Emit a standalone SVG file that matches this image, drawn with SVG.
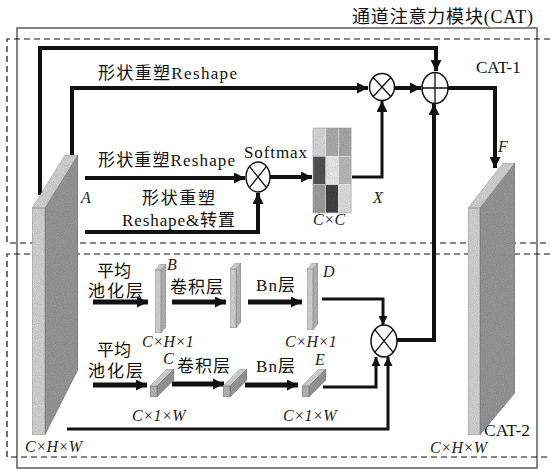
<svg xmlns="http://www.w3.org/2000/svg" width="550" height="470" viewBox="0 0 550 470">
<defs>
<style>
.t{font-family:"Liberation Serif","Times New Roman","DejaVu Serif","Noto Sans CJK SC",serif;fill:#111}
.cn{font-size:17px}
.it{font-family:"Liberation Serif","Times New Roman","DejaVu Serif",serif;font-style:italic;font-size:16px;fill:#222}
.dash{fill:none;stroke:#111;stroke-width:1.2;stroke-dasharray:6 4}
.c4{fill:none;stroke:#111;stroke-width:4}
.c5{fill:none;stroke:#111;stroke-width:5}
.c3{fill:none;stroke:#111;stroke-width:3}
.op{fill:#fff;stroke:#111;stroke-width:1.5}
.opl{stroke:#111;stroke-width:1.3}
.lf{fill:#d6d6d6;stroke:#888;stroke-width:0.6;filter:url(#grain)}
.df{fill:#999;stroke:#666;stroke-width:0.6;filter:url(#grain)}
.sf{fill:#b8b8b8;stroke:#777;stroke-width:0.6;filter:url(#grain)}
.cell{filter:url(#grain)}
</style>
<filter id="grain" x="0" y="0" width="100%" height="100%">
<feTurbulence type="fractalNoise" baseFrequency="1.1" numOctaves="1" seed="3" result="n"/>
<feColorMatrix in="n" type="matrix" values="0 0 0 0 0.55  0 0 0 0 0.55  0 0 0 0 0.55  0 0 0 -0.9 0.75" result="g"/>
<feComposite in="g" in2="SourceGraphic" operator="in" result="gi"/>
<feBlend in="gi" in2="SourceGraphic" mode="multiply" result="b"/>
<feComposite in="b" in2="SourceAlpha" operator="in"/>
</filter>
<marker id="ah" markerUnits="userSpaceOnUse" markerWidth="11" markerHeight="11" refX="10" refY="5" orient="auto" viewBox="0 0 10 10">
<path d="M0,0 L10,5 L0,10 z" fill="#111"/>
</marker>
<marker id="ahs" markerUnits="userSpaceOnUse" markerWidth="9" markerHeight="9" refX="10" refY="5" orient="auto" viewBox="0 0 10 10">
<path d="M0,0 L10,5 L0,10 z" fill="#111"/>
</marker>
</defs>
<rect width="550" height="470" fill="#fff"/>

<g id="frames">
<rect x="17" y="28" width="520" height="440" fill="none" stroke="#444" stroke-width="1.3"/>
<path class="dash" d="M550,39 H7 V243 H550"/>
<path class="dash" d="M550,254 H7 V457 H550"/>
<text class="t" x="352" y="23" font-size="18" textLength="181">通道注意力模块(CAT)</text>
<text class="t" x="476" y="73" font-size="17">CAT-1</text>
<text class="t" x="484" y="436" font-size="17.5">CAT-2</text>
</g>

<g id="connectors">
<path class="c4" d="M40,195 V48 H436 V71" marker-end="url(#ah)"/>
<path class="c4" d="M72,157 V88 H368" marker-end="url(#ah)"/>
<path class="c4" d="M395,88 H421" marker-end="url(#ah)"/>
<path class="c4" d="M448,88 H495 V168" marker-end="url(#ah)"/>
<path class="c4" d="M85,178 H245" marker-end="url(#ah)"/>
<path class="c4" d="M85,232 H258 V193" marker-end="url(#ah)"/>
<path class="c4" d="M270,177 H312" marker-end="url(#ah)"/>
<path class="c3" d="M352,177 H382 V101" marker-end="url(#ah)"/>
<path class="c4" d="M397,340 H434 V104" marker-end="url(#ah)"/>
<path class="c5" d="M93,302 H148" marker-end="url(#ah)"/>
<path class="c5" d="M172,302 H226" marker-end="url(#ah)"/>
<path class="c5" d="M248,302 H302" marker-end="url(#ah)"/>
<path class="c3" d="M322,299 H383 V325" marker-end="url(#ahs)"/>
<path class="c5" d="M93,385 H147" marker-end="url(#ah)"/>
<path class="c5" d="M172,384 H224" marker-end="url(#ah)"/>
<path class="c5" d="M245,385 H298" marker-end="url(#ah)"/>
<path class="c3" d="M323,387 H376 V357" marker-end="url(#ahs)"/>
<path class="c3" d="M67,429 H388 V357" marker-end="url(#ahs)"/>
</g>

<g id="labels">
<text class="t cn" x="98" y="79" font-size="18" textLength="139">形状重塑Reshape</text>
<text class="t cn" x="98" y="166" font-size="18" textLength="137">形状重塑Reshape</text>
<text class="t cn" x="142" y="204" font-size="18" textLength="73">形状重塑</text>
<text class="t cn" x="122" y="226" font-size="18" textLength="113">Reshape&amp;转置</text>
<text class="t" x="244" y="158" font-size="17" textLength="63">Softmax</text>
<text class="t cn" x="97" y="277">平均</text>
<text class="t cn" x="88" y="297" textLength="55">池化层</text>
<text class="t cn" x="170" y="293" textLength="53">卷积层</text>
<text class="t cn" x="256" y="291" textLength="39">Bn层</text>
<text class="t cn" x="97" y="356">平均</text>
<text class="t cn" x="88" y="377" textLength="55">池化层</text>
<text class="t cn" x="177" y="372" textLength="53">卷积层</text>
<text class="t cn" x="256" y="372" textLength="39">Bn层</text>
</g>

<g id="slabA">
<rect class="lf" x="32" y="208" width="13" height="227"/>
<polygon class="lf" points="32,208 45,208 78,155 65,155"/>
<polygon class="df" points="45,208 78,155 78,370 45,435"/>
<text class="it" x="81" y="203">A</text>
<text class="it" x="25" y="452">C×H×W</text>
</g>

<g id="slabF">
<rect class="lf" x="468" y="208" width="12" height="227"/>
<polygon class="lf" points="468,208 480,208 515,163 503,163"/>
<polygon class="df" points="480,208 515,163 515,393 480,435"/>
<text class="it" x="498" y="152">F</text>
<text class="it" x="430" y="453">C×H×W</text>
</g>

<g id="mul1">
<ellipse class="op" cx="382" cy="87" rx="12.5" ry="13.5"/>
<path class="opl" d="M373.2,77.5 L390.8,96.5 M390.8,77.5 L373.2,96.5"/>
</g>

<g id="add">
<ellipse class="op" cx="435" cy="88" rx="13" ry="15.5"/>
<path class="opl" d="M422,88 H448 M435,72.5 V103.5"/>
</g>

<g id="softmaxMul">
<ellipse class="op" cx="258" cy="177" rx="12" ry="15"/>
<path class="opl" d="M249.5,166.4 L266.5,187.6 M266.5,166.4 L249.5,187.6"/>
</g>

<g id="mul2">
<ellipse class="op" cx="384" cy="341" rx="13" ry="16"/>
<path class="opl" d="M374.8,329.7 L393.2,352.3 M393.2,329.7 L374.8,352.3"/>
</g>

<g id="matrixX">
<rect class="cell" x="313" y="128" width="12.7" height="28.3" fill="#dcdcdc"/>
<rect class="cell" x="325.7" y="128" width="12.7" height="28.3" fill="#b0b0b0"/>
<rect class="cell" x="338.4" y="128" width="12.7" height="28.3" fill="#aaaaaa"/>
<rect class="cell" x="313" y="156.3" width="12.7" height="28.3" fill="#555"/>
<rect class="cell" x="325.7" y="156.3" width="12.7" height="28.3" fill="#efefef"/>
<rect class="cell" x="338.4" y="156.3" width="12.7" height="28.3" fill="#bcbcbc"/>
<rect class="cell" x="313" y="184.6" width="12.7" height="28.3" fill="#a0a0a0"/>
<rect class="cell" x="325.7" y="184.6" width="12.7" height="28.3" fill="#444"/>
<rect class="cell" x="338.4" y="184.6" width="12.7" height="28.3" fill="#e2e2e2"/>
<rect x="313" y="128" width="38.1" height="84.9" fill="none" stroke="#999" stroke-width="0.6"/>
<text class="it" x="373" y="203">X</text>
<text class="it" x="313" y="225">C×C</text>
</g>

<g id="slabB">
<rect class="lf" x="155" y="270" width="6" height="63"/>
<polygon class="lf" points="155,270 161,270 166,264 160,264"/>
<polygon class="sf" points="161,270 166,264 166,327 161,333"/>
<text class="it" x="167" y="270">B</text>
<text class="it" x="142" y="347" font-size="15">C×H×1</text>
</g>

<g id="slabConv1">
<rect class="lf" x="230" y="269" width="6" height="59"/>
<polygon class="lf" points="230,269 236,269 241,263 235,263"/>
<polygon class="sf" points="236,269 241,263 241,322 236,328"/>
</g>

<g id="slabD">
<rect class="lf" x="307" y="269" width="6" height="61"/>
<polygon class="lf" points="307,269 313,269 318,263 312,263"/>
<polygon class="sf" points="313,269 318,263 318,324 313,330"/>
<text class="it" x="323" y="277">D</text>
<text class="it" x="285" y="347" font-size="15">C×H×1</text>
</g>

<g id="slabC">
<rect class="sf" x="150" y="386" width="7" height="11"/>
<polygon class="lf" points="150,386 167,369 174,369 157,386"/>
<polygon class="df" points="157,386 174,369 174,380 157,397"/>
<text class="it" x="163" y="364" font-size="13">C</text>
<text class="it" x="132" y="421" font-size="15">C×1×W</text>
</g>

<g id="slabConv2">
<rect class="sf" x="223" y="386" width="7" height="11"/>
<polygon class="lf" points="223,386 240,369 247,369 230,386"/>
<polygon class="df" points="230,386 247,369 247,380 230,397"/>
</g>

<g id="slabE">
<rect class="sf" x="302" y="386" width="7" height="11"/>
<polygon class="lf" points="302,386 319,369 326,369 309,386"/>
<polygon class="df" points="309,386 326,369 326,380 309,397"/>
<text class="it" x="315" y="365">E</text>
<text class="it" x="283" y="421" font-size="15">C×1×W</text>
</g>
</svg>
